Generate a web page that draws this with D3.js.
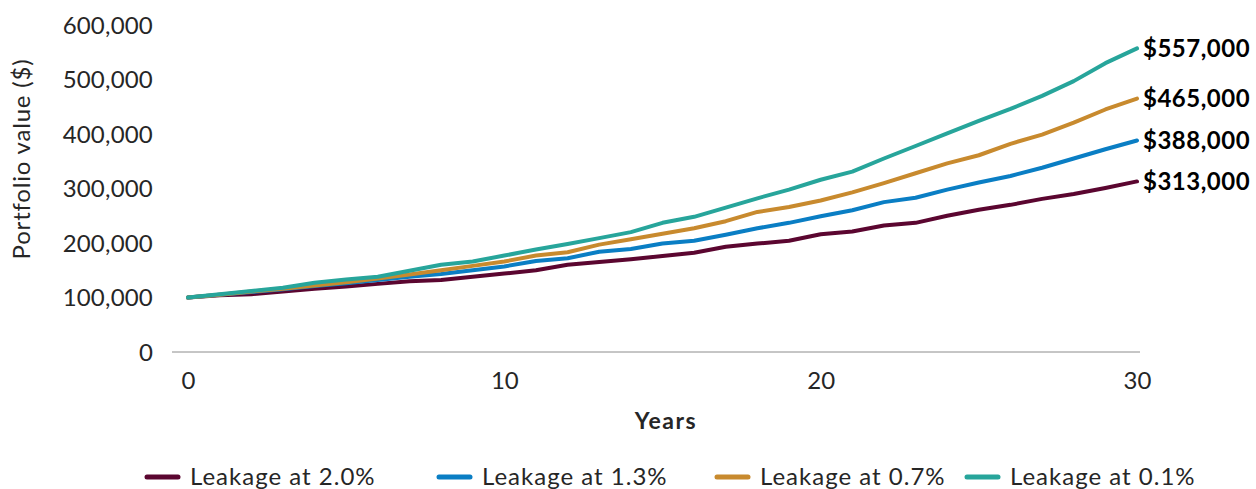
<!DOCTYPE html>
<html>
<head>
<meta charset="utf-8">
<script src="https://cdn.jsdelivr.net/npm/d3@7"></script>
<style>
  html, body { margin: 0; padding: 0; background: #fff; }
  svg { display: block; font-family: Lato, "Open Sans", sans-serif; }
</style>
</head>
<body>
<svg id="chart" width="1256" height="489"></svg>
<script>
// Years on the horizontal axis
const years = d3.range(0, 31);

// Portfolio value in $ thousands, one array per leakage rate
const leak20 = [100, 104, 106, 111, 116, 120, 125, 130, 132, 138, 144, 150, 160, 165, 170, 176, 182, 193, 199, 204, 216, 221, 232, 237, 250, 261, 270, 281, 290, 301, 313];
const leak13 = [100, 105, 110, 115, 121, 126, 132, 138, 143, 150, 157, 167, 172, 184, 189, 199, 204, 215, 227, 237, 249, 260, 275, 283, 298, 311, 323, 338, 355, 372, 388];
const leak07 = [100, 105, 111, 116, 122, 128, 135, 142, 150, 158, 166, 177, 183, 197, 207, 217, 227, 240, 257, 266, 278, 293, 310, 328, 346, 361, 382, 399, 421, 445, 465];
const leak01 = [100, 106, 112, 118, 127, 133, 138, 149, 160, 166, 177, 188, 198, 209, 220, 237, 248, 265, 282, 298, 316, 331, 355, 378, 401, 424, 446, 470, 497, 530, 557];

const seriesNames = ["Leakage at 2.0%", "Leakage at 1.3%", "Leakage at 0.7%", "Leakage at 0.1%"];
const seriesColors = ["#5b0630", "#0a7ec4", "#c88a2e", "#27a59b"];
const seriesValues = [leak20, leak13, leak07, leak01];

// Tick values
const yTicks = [0, 100000, 200000, 300000, 400000, 500000, 600000];
const xTicks = [0, 10, 20, 30];

const svg = d3.select("#chart");

const x = d3.scaleLinear().domain([0, 30]).range([188, 1137]);
const y = d3.scaleLinear().domain([0, 600000]).range([352, 25]);

const textColor = "#262626";

// Y axis labels (no axis line or ticks)
const yAxis = d3.axisLeft(y).tickValues(yTicks).tickSize(0).tickPadding(0)
  .tickFormat(d3.format(","));
const gy = svg.append("g").attr("transform", "translate(153,0)").call(yAxis);
gy.select(".domain").remove();
gy.selectAll("text").attr("font-size", 24).attr("fill", textColor)
  .attr("font-family", "Lato, sans-serif").attr("letter-spacing", 0.2)
  .attr("dy", "0.34em");

// X axis with a grey baseline
const xAxis = d3.axisBottom(x).tickValues(xTicks).tickSize(0).tickPadding(0)
  .tickFormat(d3.format("d"));
const gx = svg.append("g").attr("transform", "translate(0,352)").call(xAxis);
gx.select(".domain").remove();
gx.selectAll("text").attr("font-size", 24).attr("fill", textColor)
  .attr("font-family", "Lato, sans-serif").attr("dy", "1.55em");
svg.append("line")
  .attr("x1", 172).attr("x2", 1140)
  .attr("y1", y(0)).attr("y2", y(0))
  .attr("stroke", "#8c8c8c").attr("stroke-width", 1);

// Axis titles
svg.append("text")
  .attr("transform", "translate(22,159) rotate(-90)")
  .attr("text-anchor", "middle").attr("dy", "0.35em")
  .attr("font-size", 24).attr("letter-spacing", 0.8).attr("fill", textColor)
  .text("Portfolio value ($)");

svg.append("text")
  .attr("x", 666).attr("y", 429)
  .attr("text-anchor", "middle")
  .attr("font-size", 23).attr("font-weight", 700).attr("letter-spacing", 1.5)
  .attr("fill", textColor)
  .text("Years");

// Series lines
const line = d3.line()
  .x((d, i) => x(years[i]))
  .y(d => y(d * 1000));

seriesValues.forEach((vals, i) => {
  svg.append("path")
    .datum(vals)
    .attr("d", line)
    .attr("fill", "none")
    .attr("stroke", seriesColors[i])
    .attr("stroke-width", 4)
    .attr("stroke-linejoin", "round")
    .attr("stroke-linecap", "round");
});

// End-of-period value labels
const fmtEnd = v => "$" + d3.format(",")(v * 1000);
seriesValues.forEach((vals, i) => {
  const last = vals[vals.length - 1];
  svg.append("text")
    .attr("x", x(30) + 6).attr("y", y(last * 1000))
    .attr("dy", "0.36em")
    .attr("font-size", 24).attr("font-weight", 700).attr("letter-spacing", 0.5)
    .attr("fill", "#000")
    .text(fmtEnd(last));
});

// Legend
const legendX = [145, 437, 715, 965];
const legend = svg.append("g").attr("transform", "translate(0,477)");
seriesNames.forEach((name, i) => {
  const g = legend.append("g").attr("transform", `translate(${legendX[i]},0)`);
  g.append("line")
    .attr("x1", 2).attr("x2", 33).attr("y1", 0).attr("y2", 0)
    .attr("stroke", seriesColors[i]).attr("stroke-width", 5)
    .attr("stroke-linecap", "round");
  g.append("text")
    .attr("x", 45).attr("y", 0).attr("dy", "0.35em")
    .attr("font-size", 24).attr("letter-spacing", 1).attr("fill", textColor)
    .text(name);
});
</script>
</body>
</html>
